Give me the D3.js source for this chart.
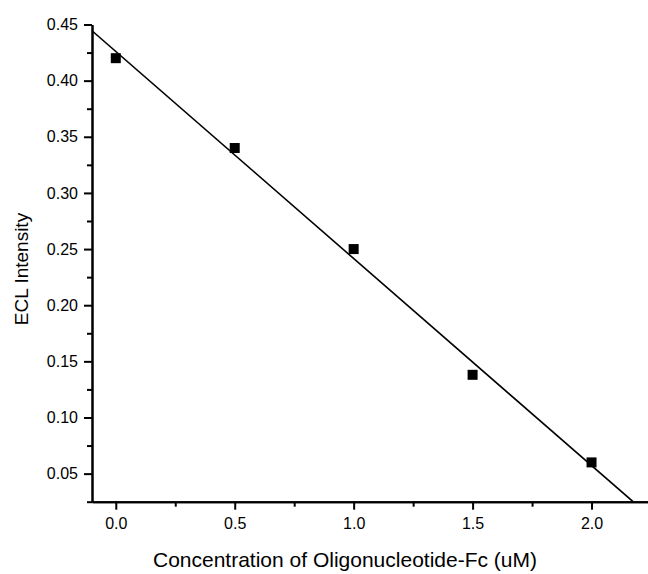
<!DOCTYPE html>
<html>
<head>
<meta charset="utf-8">
<script src="https://cdn.jsdelivr.net/npm/d3@7"></script>
<style>
  body { margin: 0; background: #fff; }
  svg { display: block; font-family: Arial, "Liberation Sans", sans-serif; }
  .axis path, .axis line { stroke: #000; stroke-width: 2; }
</style>
</head>
<body>
<script>
// data
const concentration = [0, 0.5, 1.0, 1.5, 2.0]
const intensity = [0.42, 0.34, 0.25, 0.138, 0.06]
const xTicks = [0, 0.5, 1.0, 1.5, 2.0]
const yTicks = [0.05, 0.10, 0.15, 0.20, 0.25, 0.30, 0.35, 0.40, 0.45]
const xMinor = [0.25, 0.75, 1.25, 1.75, 2.25]
const yMinor = [0.025, 0.075, 0.125, 0.175, 0.225, 0.275, 0.325, 0.375, 0.425]

const width = 648
const height = 574
const margin = {top: 24.5, left: 92, bottom: 72.3}

const x = d3.scaleLinear().domain([-0.1, 2.25]).range([margin.left, 651])
const y = d3.scaleLinear().domain([0.025, 0.45]).range([height - margin.bottom, margin.top])

const svg = d3.select('body').append('svg')
  .attr('width', width)
  .attr('height', height)

// least squares fit through the points
const mx = d3.mean(concentration)
const my = d3.mean(intensity)
const slope = d3.sum(concentration, (c, i) => (c - mx) * (intensity[i] - my)) / d3.sum(concentration, c => (c - mx) * (c - mx))
const intercept = my - slope * mx
const xEnd = (0.025 - intercept) / slope

svg.append('clipPath').attr('id', 'plot')
  .append('rect')
  .attr('x', x(-0.1)).attr('y', y(0.45))
  .attr('width', x(2.25) - x(-0.1)).attr('height', y(0.025) - y(0.45))

svg.append('line')
  .attr('clip-path', 'url(#plot)')
  .attr('x1', x(-0.1)).attr('y1', y(intercept + slope * -0.1))
  .attr('x2', x(xEnd)).attr('y2', y(0.025))
  .attr('stroke', '#000')
  .attr('stroke-width', 1.6)

// minor ticks
svg.append('g')
  .attr('class', 'axis')
  .attr('transform', 'translate(0,' + y(0.025) + ')')
  .call(d3.axisBottom(x).tickValues(xMinor).tickSize(5).tickFormat('').tickSizeOuter(0))
svg.append('g')
  .attr('class', 'axis')
  .attr('transform', 'translate(' + x(-0.1) + ',0)')
  .call(d3.axisLeft(y).tickValues(yMinor).tickSize(5).tickFormat('').tickSizeOuter(0))

// major ticks
const xAxis = svg.append('g')
  .attr('class', 'axis')
  .attr('transform', 'translate(0,' + y(0.025) + ')')
  .call(d3.axisBottom(x).tickValues(xTicks).tickSize(8).tickPadding(8).tickFormat(d3.format('.1f')).tickSizeOuter(0))
const yAxis = svg.append('g')
  .attr('class', 'axis')
  .attr('transform', 'translate(' + x(-0.1) + ',0)')
  .call(d3.axisLeft(y).tickValues(yTicks).tickSize(8).tickPadding(6).tickFormat(d3.format('.2f')).tickSizeOuter(0))

;[xAxis, yAxis].forEach(g => g.attr('font-family', 'Arial, "Liberation Sans", sans-serif')
  .selectAll('text').style('font-size', '16px').attr('fill', '#000'))

svg.selectAll('.pt')
  .data(concentration)
  .enter().append('rect')
  .attr('class', 'pt')
  .attr('x', (d) => x(d) - 5)
  .attr('y', (d, i) => y(intensity[i]) - 5)
  .attr('width', 10)
  .attr('height', 10)
  .attr('fill', '#000')

svg.append('text')
  .attr('x', 345)
  .attr('y', 567)
  .attr('text-anchor', 'middle')
  .attr('font-size', 21)
  .text('Concentration of Oligonucleotide-Fc (uM)')

svg.append('text')
  .attr('transform', 'translate(28,269) rotate(-90)')
  .attr('text-anchor', 'middle')
  .attr('font-size', 19)
  .text('ECL Intensity')
</script>
</body>
</html>
